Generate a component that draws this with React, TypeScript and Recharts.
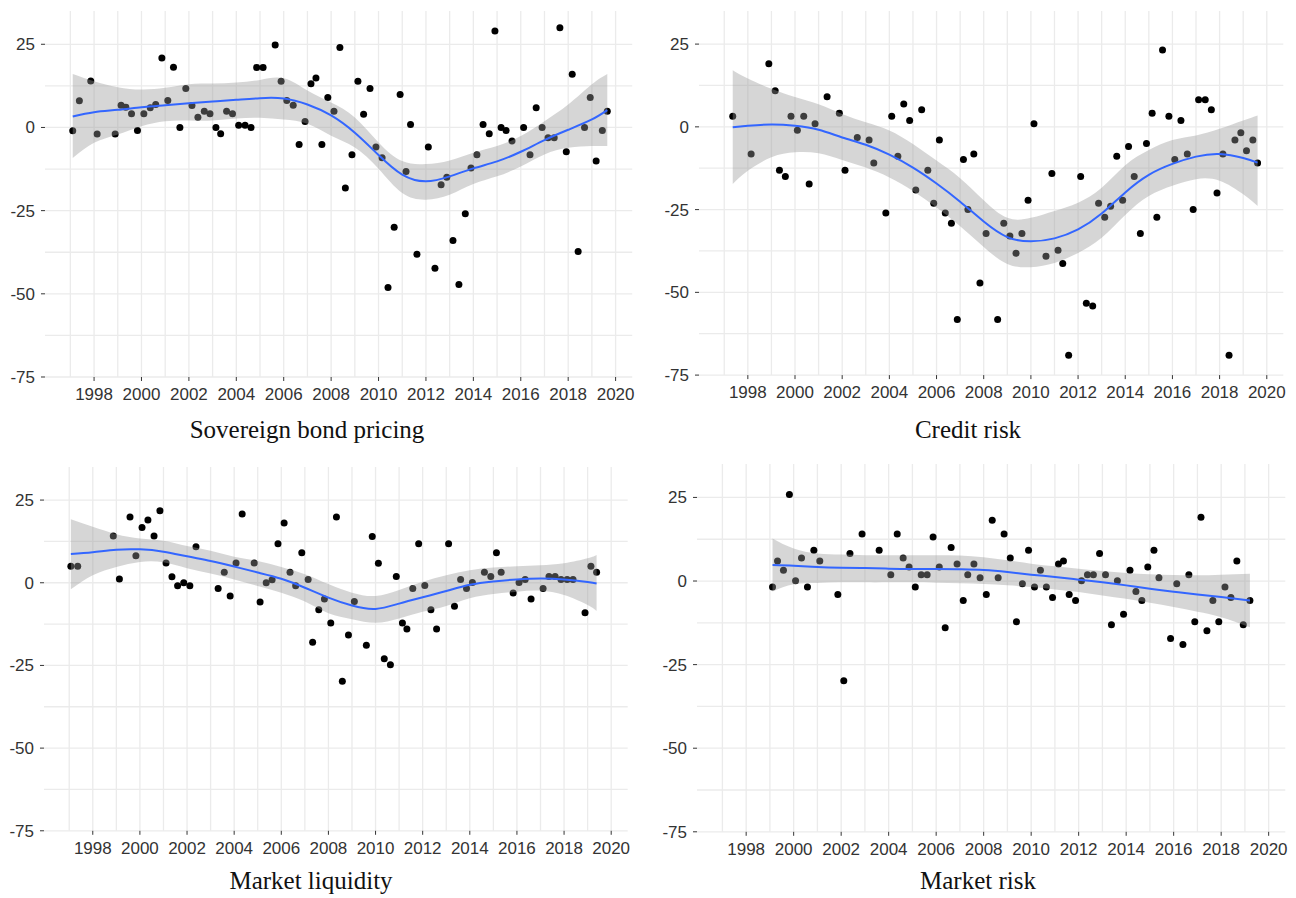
import React from 'react';
import { ComposedChart, Scatter, Line, Area, XAxis, YAxis, CartesianGrid } from 'recharts';

// axis ticks shared by all four panels
const yearTicks = [1998, 2000, 2002, 2004, 2006, 2008, 2010, 2012, 2014, 2016, 2018, 2020];
const yearMinor = [1997, 1999, 2001, 2003, 2005, 2007, 2009, 2011, 2013, 2015, 2017, 2019];
const valueTicks = [-75, -50, -25, 0, 25];
const valueMinor = [-62.5, -37.5, -12.5, 12.5];

// Sovereign bond pricing
const sovereignPoints = [
    [1997.1, -1], [1997.38, 8], [1997.86, 14], [1998.13, -2], [1998.89, -2], [1999.14, 6.7], [1999.34, 6.1],
    [1999.58, 4.1], [1999.83, -0.9], [2000.1, 4.1], [2000.37, 5.9], [2000.6, 6.9], [2000.86, 20.9], [2001.11, 8.1],
    [2001.35, 18.1], [2001.62, 0], [2001.87, 11.7], [2002.13, 6.6], [2002.38, 3.1], [2002.65, 4.9], [2002.89, 4.1],
    [2003.14, 0], [2003.34, -1.9], [2003.59, 4.9], [2003.84, 4.1], [2004.1, 0.7], [2004.37, 0.7], [2004.62, 0],
    [2004.86, 18], [2005.13, 18], [2005.64, 24.8], [2005.89, 13.9], [2006.13, 8.1], [2006.4, 6.7], [2006.65, -5.1],
    [2006.9, 1.8], [2007.15, 13.1], [2007.36, 14.9], [2007.61, -5.1], [2007.86, 9], [2008.12, 4.9], [2008.37, 24],
    [2008.6, -18.2], [2008.88, -8.2], [2009.13, 13.9], [2009.37, 4], [2009.64, 11.7], [2009.89, -5.9], [2010.15, -9.1],
    [2010.4, -48.1], [2010.66, -30], [2010.91, 9.9], [2011.16, -13.2], [2011.35, 0.9], [2011.62, -38.1], [2012.1, -5.9],
    [2012.38, -42.3], [2012.64, -17.2], [2012.88, -15], [2013.14, -34], [2013.39, -47.2], [2013.66, -25.9], [2013.9, -12.2],
    [2014.15, -8.2], [2014.41, 0.9], [2014.67, -1.9], [2014.91, 29], [2015.17, 0], [2015.38, -0.9], [2015.63, -4.1],
    [2016.12, 0], [2016.39, -8.2], [2016.65, 5.9], [2016.9, 0], [2017.15, -3.1], [2017.41, -3.1], [2017.65, 30],
    [2017.92, -7.3], [2018.17, 16], [2018.42, -37.3], [2018.69, 0], [2018.93, 9], [2019.18, -10.1], [2019.44, -0.9],
    [2019.65, 4.9],
];
const sovereignYears = [1997.1, 1998, 1999, 2000, 2001, 2002, 2003, 2004, 2005, 2006, 2007, 2008, 2009, 2010, 2011, 2012, 2013, 2014, 2015, 2016, 2017, 2018, 2019, 2019.65];
const sovereignFit = [3.3, 4.6, 5.3, 6.1, 6.7, 7.3, 7.8, 8.3, 8.8, 8.7, 6.9, 3.6, -1.6, -8.3, -14.2, -16.2, -14.7, -12.3, -10.2, -7.3, -3.8, -0.7, 2.4, 5.2];
const sovereignLower = [-9.2, -4.6, -2.1, 0.4, 1.9, 2.1, 2.1, 2.7, 2.9, 2.4, 1.1, -2.5, -6, -12.4, -19.7, -21.7, -20.2, -17, -14.7, -11.7, -8.1, -6.1, -5.6, -5.6];
const sovereignUpper = [16.1, 13.9, 12.1, 11.4, 11.9, 13, 13.2, 13.5, 14.3, 14.8, 11.1, 7.5, 3, -4.5, -10.1, -11, -9.9, -7.6, -5.6, -2.6, 1.9, 6.9, 13, 16.1];

// Credit risk
const creditPoints = [
    [1997.36, 3.2], [1998.14, -8.2], [1998.89, 19.1], [1999.16, 10.9], [1999.34, -13.1], [1999.59, -15], [1999.83, 3.2],
    [2000.1, -1], [2000.37, 3.2], [2000.6, -17.3], [2000.85, 0.9], [2001.36, 9.1], [2001.88, 4.1], [2002.12, -13.1],
    [2002.64, -3.2], [2003.14, -4], [2003.34, -10.9], [2003.85, -26], [2004.1, 3.2], [2004.36, -8.9], [2004.61, 6.9],
    [2004.86, 1.9], [2005.12, -19.1], [2005.37, 5.2], [2005.63, -13.1], [2005.88, -23.1], [2006.12, -4], [2006.37, -26],
    [2006.63, -29.1], [2006.88, -58.2], [2007.14, -9.9], [2007.33, -25], [2007.58, -8.2], [2007.84, -47.2], [2008.1, -32.2],
    [2008.59, -58.2], [2008.85, -29.1], [2009.11, -33], [2009.37, -38.2], [2009.62, -32.2], [2009.88, -22.2], [2010.13, 0.9],
    [2010.64, -39.1], [2010.89, -14.1], [2011.15, -37.3], [2011.35, -41.3], [2011.6, -69], [2012.11, -15], [2012.35, -53.3],
    [2012.62, -54.1], [2012.87, -23.1], [2013.13, -27.3], [2013.38, -24], [2013.64, -8.9], [2013.89, -22.2], [2014.14, -5.9],
    [2014.38, -15], [2014.64, -32.2], [2014.9, -5], [2015.14, 4.1], [2015.34, -27.3], [2015.58, 23.2], [2015.85, 3.2],
    [2016.1, -9.9], [2016.36, 1.9], [2016.63, -8.2], [2016.88, -25], [2017.11, 8.2], [2017.39, 8.2], [2017.65, 5.2],
    [2017.89, -20], [2018.14, -8.2], [2018.4, -69], [2018.65, -4], [2018.9, -1.8], [2019.14, -7.2], [2019.41, -4],
    [2019.61, -10.9],
];
const creditYears = [1997.36, 1998, 1999, 2000, 2001, 2002, 2003, 2004, 2005, 2006, 2007, 2008, 2009, 2010, 2011, 2012, 2013, 2014, 2015, 2016, 2017, 2018, 2019, 2019.61];
const creditFit = [-0.1, 0.3, 0.7, 0.3, -0.9, -3.2, -5.4, -8.4, -12.3, -17.1, -22.6, -28.6, -33.3, -34.6, -33.7, -31, -26.2, -19.8, -14.5, -11.2, -9, -8.2, -9.4, -10.8];
const creditLower = [-17.3, -13.3, -9.2, -7.7, -8, -10, -12.3, -15.3, -19.4, -24.4, -30, -36.3, -41.4, -42.4, -41.1, -38.1, -33.5, -26.6, -20.9, -17.8, -15.8, -16.3, -20.4, -23.9];
const creditUpper = [17.1, 14.6, 11.5, 9, 6.8, 3.9, 1.4, -1.1, -5.2, -10.2, -15.5, -22.2, -27.5, -27.5, -25.4, -22.9, -18.4, -11.6, -7, -4, -2.6, -0.6, 1.9, 3.4];

// Market liquidity
const liquidityPoints = [
    [1997.07, 5], [1997.36, 5], [1998.87, 14.1], [1999.13, 1.1], [1999.58, 19.9], [1999.83, 8.2], [2000.09, 16.7],
    [2000.34, 19], [2000.6, 14.1], [2000.85, 21.8], [2001.11, 6], [2001.36, 1.8], [2001.6, -0.9], [2001.86, 0],
    [2002.12, -0.9], [2002.38, 10.9], [2003.32, -1.7], [2003.58, 3.2], [2003.83, -4], [2004.08, 6], [2004.34, 20.8],
    [2004.85, 6], [2005.1, -5.8], [2005.36, 0], [2005.61, 0.9], [2005.86, 11.8], [2006.12, 18.1], [2006.37, 3.2],
    [2006.61, -0.9], [2006.87, 9.1], [2007.14, 1], [2007.33, -18], [2007.59, -8.2], [2007.83, -4.9], [2008.1, -12.2],
    [2008.34, 19.9], [2008.59, -29.8], [2008.85, -15.8], [2009.1, -5.7], [2009.61, -18.9], [2009.86, 14], [2010.12, 5.9],
    [2010.37, -23], [2010.63, -24.8], [2010.88, 1.9], [2011.14, -12.2], [2011.33, -14], [2011.58, -1.7], [2011.83, 11.8],
    [2012.09, -0.8], [2012.35, -8.2], [2012.59, -14], [2013.1, 11.8], [2013.35, -7.1], [2013.61, 1], [2013.86, -1.7],
    [2014.11, 0.1], [2014.62, 3.2], [2014.89, 1.9], [2015.13, 9.1], [2015.33, 3.2], [2015.84, -3.1], [2016.09, 0.1],
    [2016.35, 1], [2016.6, -4.9], [2017.11, -1.7], [2017.36, 1.9], [2017.62, 1.9], [2017.87, 1], [2018.13, 1],
    [2018.38, 1], [2018.89, -9.1], [2019.14, 5], [2019.38, 3.2],
];
const liquidityYears = [1997.07, 1998, 1999, 2000, 2001, 2002, 2003, 2004, 2005, 2006, 2007, 2008, 2009, 2010, 2011, 2012, 2013, 2014, 2015, 2016, 2017, 2018, 2019, 2019.38];
const liquidityFit = [8.7, 9.2, 10, 10.1, 9.4, 8, 6.6, 4.9, 3.1, 1.2, -1.5, -4.5, -6.9, -7.9, -6.3, -4.4, -2.5, -0.6, 0.4, 1, 1.3, 1, 0.2, -0.2];
const liquidityLower = [-2, 2.3, 4.8, 6.3, 6.2, 4.4, 2.8, 1, -1, -3, -5.7, -9.2, -11, -12.1, -10.8, -8.8, -7, -4.7, -3.4, -2.7, -2.4, -3.7, -6.7, -8.5];
const liquidityUpper = [19.2, 16.9, 14.7, 13.4, 12.7, 11.1, 9.7, 7.9, 6.6, 4.8, 2.6, -0.4, -3, -4, -2.2, 0.3, 2.3, 3.8, 4.6, 5, 5.3, 5.9, 7.4, 8.4];

// Market risk
const marketRiskPoints = [
    [1999.11, -1.8], [1999.32, 6], [1999.57, 3.2], [1999.82, 25.9], [2000.08, 0.1], [2000.33, 6.9], [2000.58, -1.8],
    [2000.85, 9.2], [2001.1, 6], [2001.86, -4], [2002.11, -29.8], [2002.37, 8.2], [2002.88, 14.1], [2003.6, 9.2],
    [2004.09, 1.9], [2004.36, 14.1], [2004.61, 6.9], [2004.86, 4.2], [2005.12, -1.8], [2005.37, 1.9], [2005.62, 1.9],
    [2005.87, 13.2], [2006.13, 4.2], [2006.38, -14], [2006.63, 10], [2006.88, 5.1], [2007.14, -5.8], [2007.33, 1.9],
    [2007.59, 5.1], [2007.85, 1], [2008.11, -4], [2008.36, 18.2], [2008.61, 1], [2008.86, 14.1], [2009.12, 6.9],
    [2009.38, -12.2], [2009.63, -0.8], [2009.89, 9.2], [2010.14, -1.8], [2010.39, 3.2], [2010.64, -1.8], [2010.9, -4.9],
    [2011.15, 5.1], [2011.36, 6], [2011.6, -4], [2011.87, -5.8], [2012.12, 0.1], [2012.37, 1.9], [2012.62, 1.9],
    [2012.88, 8.2], [2013.13, 1.9], [2013.38, -13.1], [2013.63, 0.1], [2013.89, -9.9], [2014.16, 3.2], [2014.41, -3.1],
    [2014.66, -5.8], [2014.91, 4.2], [2015.17, 9.2], [2015.38, 1], [2015.87, -17.2], [2016.13, -0.8], [2016.39, -19],
    [2016.64, 1.9], [2016.89, -12.2], [2017.15, 19.1], [2017.4, -14.9], [2017.65, -5.8], [2017.9, -12.2], [2018.16, -1.8],
    [2018.41, -4.9], [2018.66, 6], [2018.93, -13.1], [2019.21, -5.8],
];
const marketRiskYears = [1999.11, 2000, 2001, 2002, 2003, 2004, 2005, 2006, 2007, 2008, 2009, 2010, 2011, 2012, 2013, 2014, 2015, 2016, 2017, 2018, 2019.21];
const marketRiskFit = [4.8, 4.6, 4.2, 4, 3.9, 3.7, 3.6, 3.6, 3.5, 3.3, 2.7, 1.9, 1.2, 0.4, -0.4, -1.3, -2.3, -3.2, -4, -4.8, -5.8];
const marketRiskLower = [-3.1, -1, -0.6, -0.4, -0.4, -0.4, -0.4, -0.5, -0.7, -0.9, -1.3, -1.8, -2.5, -3.3, -4.3, -5.3, -6.5, -7.8, -9.2, -10.8, -13.8];
const marketRiskUpper = [12.7, 9.7, 8.2, 7.9, 7.7, 7.7, 7.7, 7.7, 7.6, 7.1, 6.2, 5.2, 4.4, 3.7, 3, 2.4, 2, 1.8, 1.7, 1.9, 2.2];

const X_DOMAIN = [1995.93, 2020.7];
const Y_DOMAIN = [-75, 35];

const tickStyle = { fontSize: 17, fill: '#333', fontFamily: '"Liberation Sans", Arial, sans-serif' };

const Dot = (props: any) => <circle cx={props.cx} cy={props.cy} r={3.5} fill="#000" />;

interface PanelProps {
    title: string;
    points: number[][];
    years: number[];
    fit: number[];
    lower: number[];
    upper: number[];
    box: { left: number; top: number; right: number; bottom: number };
    titleX: number;
    titleTop: number;
}

const Panel: React.FC<PanelProps> = ({ title, points, years, fit, lower, upper, box, titleX, titleTop }) => {
    const scatter = points.map(([x, y]) => ({ x, y }));
    const smooth = years.map((x, i) => ({ x, fit: fit[i], band: [lower[i], upper[i]] }));
    const width = box.right - box.left + 60;
    const height = box.bottom - box.top + 50;

    return (
        <>
            <div style={{ position: 'absolute', left: box.left - 50, top: box.top - 10 }}>
                <ComposedChart width={width} height={height} margin={{ top: 10, right: 10, left: 0, bottom: 0 }}>
                    <CartesianGrid
                        stroke="#ebebeb"
                        strokeWidth={1.3}
                        horizontalValues={[...valueTicks, ...valueMinor]}
                        verticalValues={[...yearTicks, ...yearMinor]}
                    />
                    <XAxis
                        type="number"
                        dataKey="x"
                        domain={X_DOMAIN}
                        ticks={yearTicks}
                        interval={0}
                        allowDataOverflow
                        axisLine={false}
                        tickLine={{ stroke: '#333' }}
                        tickSize={4}
                        tickMargin={7}
                        tick={tickStyle}
                        height={40}
                    />
                    <YAxis
                        type="number"
                        domain={Y_DOMAIN}
                        ticks={valueTicks}
                        interval={0}
                        allowDataOverflow
                        axisLine={false}
                        tickLine={{ stroke: '#333' }}
                        tickSize={4}
                        tickMargin={6}
                        tick={tickStyle}
                        width={50}
                    />
                    {/* points sit under the confidence band, as in ggplot */}
                    <Scatter data={scatter} dataKey="y" shape={Dot} isAnimationActive={false} zIndex={50} />
                    <Area
                        data={smooth}
                        dataKey="band"
                        type="natural"
                        stroke="none"
                        fill="#999999"
                        fillOpacity={0.4}
                        isAnimationActive={false}
                    />
                    <Line
                        data={smooth}
                        dataKey="fit"
                        type="natural"
                        stroke="#3366FF"
                        strokeWidth={2}
                        dot={false}
                        activeDot={false}
                        isAnimationActive={false}
                    />
                </ComposedChart>
            </div>
            <div
                style={{
                    position: 'absolute',
                    left: titleX - 200,
                    width: 400,
                    top: titleTop,
                    textAlign: 'center',
                    fontFamily: '"Liberation Serif", "Times New Roman", serif',
                    fontSize: 25,
                    lineHeight: '25px',
                    color: '#111',
                }}
            >
                {title}
            </div>
        </>
    );
};

const App: React.FC = () => (
    <div style={{ position: 'absolute', left: 0, top: 0, width: 1296, height: 898, background: '#fff', overflow: 'hidden' }}>
        <Panel
            title="Sovereign bond pricing"
            points={sovereignPoints}
            years={sovereignYears}
            fit={sovereignFit}
            lower={sovereignLower}
            upper={sovereignUpper}
            box={{ left: 44.5, top: 10.7, right: 631.7, bottom: 376.7 }}
            titleX={307}
            titleTop={417}
        />
        <Panel
            title="Credit risk"
            points={creditPoints}
            years={creditYears}
            fit={creditFit}
            lower={creditLower}
            upper={creditUpper}
            box={{ left: 699, top: 10.9, right: 1283.3, bottom: 375 }}
            titleX={968}
            titleTop={417}
        />
        <Panel
            title="Market liquidity"
            points={liquidityPoints}
            years={liquidityYears}
            fit={liquidityFit}
            lower={liquidityLower}
            upper={liquidityUpper}
            box={{ left: 44.3, top: 466.9, right: 628, bottom: 830.7 }}
            titleX={311}
            titleTop={868}
        />
        <Panel
            title="Market risk"
            points={marketRiskPoints}
            years={marketRiskYears}
            fit={marketRiskFit}
            lower={marketRiskLower}
            upper={marketRiskUpper}
            box={{ left: 696.7, top: 463.9, right: 1285, bottom: 831.7 }}
            titleX={978}
            titleTop={868}
        />
    </div>
);

export default App;
